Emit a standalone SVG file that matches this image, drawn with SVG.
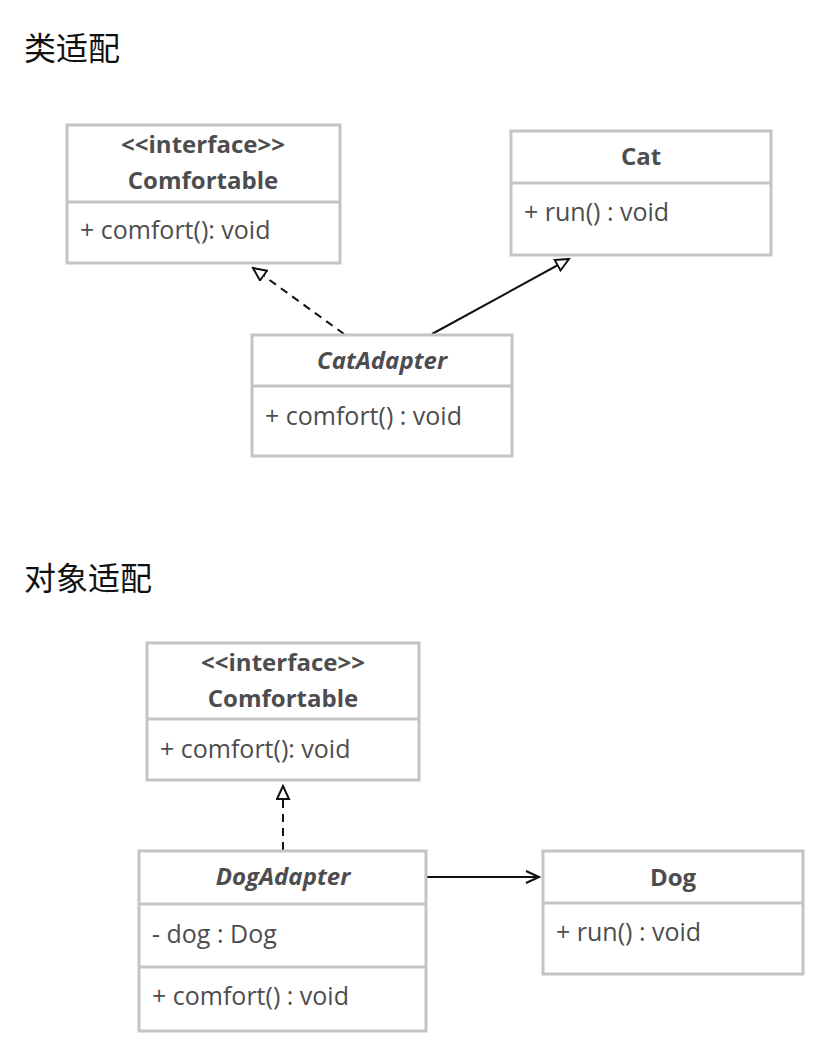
<svg xmlns="http://www.w3.org/2000/svg" width="836" height="1056" viewBox="0 0 836 1056">
<style>
.box{fill:#fff;stroke:#c2c4c5;stroke-width:3}
.div{stroke:#c2c4c5;stroke-width:3}
.t{font-family:"Open Sans",Lato,sans-serif;font-size:25px;fill:#4d4d4f}
.b{font-weight:bold;text-anchor:middle;font-size:24px}
.i{font-style:italic}
.h{font-family:"Noto Sans CJK SC",sans-serif;font-size:32px;fill:#111}
.c{stroke:#111;stroke-width:2;fill:none}
</style>
<defs>
<marker id="tri" markerWidth="16" markerHeight="16" refX="14" refY="7" orient="auto" markerUnits="userSpaceOnUse" viewBox="0 0 16 16">
<path d="M1,1 L14,7 L1,13 Z" fill="#fff" stroke="#111" stroke-width="2"/>
</marker>
<marker id="open" markerWidth="16" markerHeight="16" refX="14" refY="7" orient="auto" markerUnits="userSpaceOnUse" viewBox="0 0 16 16">
<path d="M1,1 L14,7 L1,13" fill="none" stroke="#111" stroke-width="2"/>
</marker>
</defs>
<text class="h" x="24" y="60">类适配</text>
<text class="h" x="24" y="590">对象适配</text>

<g id="connectors">
<line class="c" x1="344" y1="334" x2="253" y2="268" stroke-dasharray="8,6" marker-end="url(#tri)"/>
<line class="c" x1="432" y1="334" x2="569" y2="259" marker-end="url(#tri)"/>
<line class="c" x1="283" y1="850" x2="283" y2="786" stroke-dasharray="8,6" marker-end="url(#tri)"/>
<line class="c" x1="427" y1="877" x2="539" y2="877" marker-end="url(#open)"/>
</g>

<g id="comfortable1">
<rect class="box" x="67" y="125" width="273" height="138"/>
<line class="div" x1="67" y1="202" x2="340" y2="202"/>
<text class="t b" x="203" y="153">&lt;&lt;interface&gt;&gt;</text>
<text class="t b" x="203" y="189">Comfortable</text>
<text class="t" x="80" y="239">+ comfort(): void</text>
</g>

<g id="cat">
<rect class="box" x="511" y="131" width="260" height="124"/>
<line class="div" x1="511" y1="183" x2="771" y2="183"/>
<text class="t b" x="641" y="165">Cat</text>
<text class="t" x="524" y="221">+ run() : void</text>
</g>

<g id="catadapter">
<rect class="box" x="252" y="335" width="260" height="121"/>
<line class="div" x1="252" y1="386" x2="512" y2="386"/>
<text class="t b i" x="382" y="369">CatAdapter</text>
<text class="t" x="265" y="425">+ comfort() : void</text>
</g>

<g id="comfortable2">
<rect class="box" x="147" y="643" width="272" height="137"/>
<line class="div" x1="147" y1="719" x2="419" y2="719"/>
<text class="t b" x="283" y="671">&lt;&lt;interface&gt;&gt;</text>
<text class="t b" x="283" y="707">Comfortable</text>
<text class="t" x="160" y="758">+ comfort(): void</text>
</g>

<g id="dogadapter">
<rect class="box" x="139" y="851" width="287" height="180"/>
<line class="div" x1="139" y1="904" x2="426" y2="904"/>
<line class="div" x1="139" y1="967" x2="426" y2="967"/>
<text class="t b i" x="283" y="885">DogAdapter</text>
<text class="t" x="152" y="943">- dog : Dog</text>
<text class="t" x="152" y="1005">+ comfort() : void</text>
</g>

<g id="dog">
<rect class="box" x="543" y="851" width="260" height="123"/>
<line class="div" x1="543" y1="903" x2="803" y2="903"/>
<text class="t b" x="673" y="886">Dog</text>
<text class="t" x="556" y="941">+ run() : void</text>
</g>
</svg>
